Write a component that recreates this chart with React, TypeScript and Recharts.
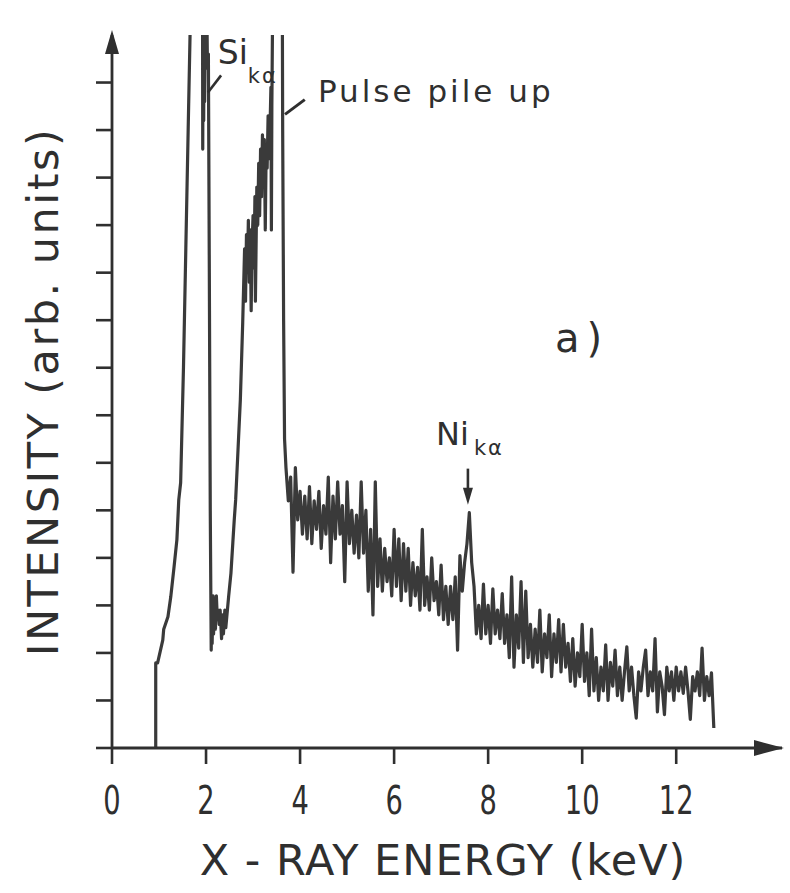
import React from 'react';
import { LineChart, Line, XAxis, YAxis, ReferenceDot, ReferenceLine, Label } from 'recharts';

// rising edge, Si K-alpha and pulse pile-up region (keV / arb. units)
const riseEnergy = [
  0.93, 0.93, 0.97, 1.08, 1.1, 1.19, 1.25, 1.32, 1.38, 1.42, 1.46, 1.52, 1.57, 1.62, 1.66, 1.69,
  1.92, 1.93, 1.94, 1.95, 1.96, 1.97, 1.99, 2.0, 2.02, 2.03, 2.05, 2.07, 2.09, 2.11,
  2.12, 2.13, 2.15, 2.16, 2.18, 2.2, 2.22, 2.24, 2.26, 2.28, 2.3, 2.33, 2.35, 2.37, 2.4,
  2.42, 2.48, 2.53, 2.57, 2.6, 2.63, 2.68, 2.73, 2.78, 2.82, 2.84, 2.86, 2.88, 2.9, 2.92,
  2.94, 2.96, 2.98, 3.0, 3.02, 3.04, 3.05, 3.08, 3.1, 3.12, 3.14, 3.16, 3.18, 3.2, 3.22,
  3.24, 3.26, 3.28, 3.3, 3.32, 3.34, 3.36, 3.38, 3.39, 3.4, 3.42, 3.44, 3.61, 3.63, 3.65, 3.67,
];
const riseIntensity = [
  0, 1.79, 1.79, 2.27, 2.5, 2.76, 3.18, 3.81, 4.38, 5.22, 5.58, 8.0, 10.5, 13.0, 15.0, 20,
  20, 12.6, 16, 13.2, 15.5, 13.6, 16, 14.4, 15.3, 14.3, 14.6, 10.0, 5.0, 2.06,
  3.0, 2.2, 3.2, 2.4, 3.1, 2.5, 3.2, 2.7, 2.9, 2.6, 2.9, 2.3, 2.8, 2.4, 2.9,
  2.53, 3.18, 3.68, 4.32, 4.8, 5.22, 6.27, 7.33, 8.95, 10.5, 9.4, 10.8, 10.0, 11.1, 9.8,
  10.9, 9.2, 10.6, 11.2, 10.1, 11.6, 9.4, 11.8, 11.0, 12.3, 11.2, 12.6, 11.6, 12.9, 11.9,
  12.8, 10.9, 12.7, 12.2, 13.3, 12.4, 13.0, 13.9, 10.9, 13.5, 16, 20, 20, 13, 9, 6.5,
];

// noisy background, one value per 0.05 keV channel from 3.70 keV
const tailStart = 3.7;
const channelWidth = 0.05;
const tailIntensity = [
  5.9, 5.2, 5.7, 3.7, 5.9, 4.8, 5.4, 4.5, 5.3, 4.4, 5.5, 4.3, 5.2, 4.6, 5.4, 4.2, 5.1, 4.5, 5.7, 3.9,
  5.3, 4.4, 5.6, 4.5, 5.1, 3.5, 5.6, 4.3, 5.0, 4.1, 4.9, 4.0, 5.6, 4.1, 5.0, 3.3, 4.6, 2.8, 5.6, 3.4,
  4.4, 3.3, 4.2, 3.5, 4.0, 3.2, 4.6, 3.4, 4.4, 3.1, 4.3, 3.3, 4.2, 3.0, 3.9, 3.2, 3.8, 2.9, 4.6, 3.0,
  3.6, 2.9, 4.0, 3.1, 3.5, 2.8, 3.85, 2.7, 3.4, 2.6, 3.4, 2.7, 3.6, 2.06, 4.05, 3.3, 3.9, 4.3, 4.95, 3.9,
  3.4, 2.4, 3.0, 2.3, 3.45, 2.4, 3.0, 2.2, 3.35, 2.4, 2.9, 2.3, 3.25, 2.2, 2.8, 1.9, 3.6, 1.7, 2.8, 2.1,
  3.5, 1.8, 3.3, 1.9, 2.6, 1.7, 2.5, 1.8, 2.9, 1.6, 2.4, 1.9, 2.8, 1.5, 2.4, 1.8, 2.7, 1.6, 2.6, 1.7,
  2.2, 1.4, 2.3, 1.3, 2.0, 1.5, 2.6, 1.4, 2.0, 1.1, 2.5, 1.2, 1.9, 1.0, 1.7, 1.2, 2.17, 1.0, 1.8, 1.3,
  2.06, 1.1, 1.7, 1.0, 1.6, 2.13, 1.2, 1.7, 1.1, 0.63, 1.6, 1.2, 1.7, 2.06, 1.1, 1.6, 1.2, 2.3, 0.76, 1.6,
  1.3, 0.7, 1.7, 1.2, 1.6, 1.0, 1.7, 1.2, 1.6, 1.15, 1.7, 1.2, 0.6, 1.5, 1.2, 1.6, 1.1, 2.1, 1.0, 1.5,
  1.1, 1.58, 0.42,
];

const xTicks = [0, 2, 4, 6, 8, 10, 12];
const yTicks = [0, 1, 2, 3, 4, 5, 6, 7, 8, 9, 10, 11, 12, 13, 14];

const spectrum = [
  ...riseEnergy.map((e, i) => ({ e, v: riseIntensity[i] })),
  ...tailIntensity.map((v, i) => ({ e: +(tailStart + i * channelWidth).toFixed(2), v })),
];

const INK = '#2f2f2f';
const FONT = '"DejaVu Sans", sans-serif';

const XTick = (p: any) => (
  <g transform={`translate(${p.x},${p.y + 48})`}>
    <text transform="scale(0.7,1)" textAnchor="middle" fontSize={39} fill={INK} fontFamily={FONT}>
      {p.payload.value}
    </text>
  </g>
);

const NoTick = () => <g />;

const XTitle = (p: any) => {
  const vb = p.viewBox;
  return (
    <text x={vb.x + vb.width / 2 - 4} y={vb.y + 127} textAnchor="middle" fontSize={43}
      fill={INK} fontFamily={FONT} letterSpacing={1}>
      X - RAY ENERGY (keV)
    </text>
  );
};

const YTitle = (p: any) => {
  const vb = p.viewBox;
  const cx = vb.x + 58;
  const cy = vb.y + vb.height / 2;
  return (
    <text x={cx} y={cy} transform={`rotate(-90, ${cx}, ${cy})`} textAnchor="middle" fontSize={43}
      fill={INK} fontFamily={FONT} letterSpacing={2.5}>
      INTENSITY (arb. units)
    </text>
  );
};

export default function App() {
  return (
    <div style={{ position: 'absolute', left: 0, top: 0, width: 790, height: 893, background: '#fff' }}>
      <LineChart width={790} height={893} data={spectrum} margin={{ top: 35, right: 8, bottom: 105, left: 0 }}>
        <XAxis dataKey="e" type="number" domain={[0, 14.25]} ticks={xTicks} interval={0} height={40}
          tickSize={16} tick={<XTick />} allowDataOverflow
          axisLine={{ stroke: INK, strokeWidth: 2.8 }} tickLine={{ stroke: INK, strokeWidth: 2.6 }}>
          <Label content={XTitle} />
        </XAxis>
        <YAxis type="number" domain={[0, 15]} ticks={yTicks} interval={0} width={112}
          tickSize={16} tick={NoTick} allowDataOverflow
          axisLine={{ stroke: INK, strokeWidth: 2.8 }} tickLine={{ stroke: INK, strokeWidth: 2.6 }}>
          <Label content={YTitle} />
        </YAxis>

        <Line data={spectrum} dataKey="v" type="linear" dot={false} activeDot={false}
          stroke="#3a3a3a" strokeWidth={3.2} strokeLinejoin="round" isAnimationActive={false} />

        {/* axis arrowheads */}
        <ReferenceDot x={0} y={15} r={0} ifOverflow="visible"
          shape={(p: any) => (
            <polygon points={`${p.cx},${p.cy - 5} ${p.cx - 7},${p.cy + 19} ${p.cx + 7},${p.cy + 19}`} fill={INK} />
          )} />
        <ReferenceDot x={14.25} y={0} r={0} ifOverflow="visible"
          shape={(p: any) => (
            <polygon points={`${p.cx + 2},${p.cy} ${p.cx - 28},${p.cy - 8} ${p.cx - 28},${p.cy + 8}`} fill={INK} />
          )} />

        {/* Si K-alpha */}
        <ReferenceLine segment={[{ x: 2.04, y: 13.79 }, { x: 2.32, y: 14.15 }]} stroke={INK} strokeWidth={2.6} ifOverflow="visible" />
        <ReferenceDot x={2.25} y={14.38} r={0} ifOverflow="visible"
          shape={(p: any) => (
            <g fill={INK} fontFamily={FONT}>
              <text x={p.cx} y={p.cy} fontSize={33}>Si</text>
              <text x={p.cx + 30} y={p.cy + 19} fontSize={21} letterSpacing={2}>kα</text>
            </g>
          )} />

        {/* pulse pile up */}
        <ReferenceLine segment={[{ x: 3.68, y: 13.33 }, { x: 4.1, y: 13.64 }]} stroke={INK} strokeWidth={3} ifOverflow="visible" />
        <ReferenceDot x={4.38} y={13.58} r={0} ifOverflow="visible"
          shape={(p: any) => (
            <text x={p.cx} y={p.cy} fontSize={31} fill={INK} fontFamily={FONT} letterSpacing={3}>Pulse pile up</text>
          )} />

        {/* panel label */}
        <ReferenceDot x={9.42} y={8.34} r={0} ifOverflow="visible"
          shape={(p: any) => (
            <text x={p.cx} y={p.cy} fontSize={40} fill={INK} fontFamily={FONT} letterSpacing={7}>a)</text>
          )} />

        {/* Ni K-alpha */}
        <ReferenceDot x={6.89} y={6.38} r={0} ifOverflow="visible"
          shape={(p: any) => (
            <g fill={INK} fontFamily={FONT}>
              <text x={p.cx} y={p.cy} fontSize={32}>Ni</text>
              <text x={p.cx + 38} y={p.cy + 10} fontSize={21} letterSpacing={2}>kα</text>
            </g>
          )} />
        <ReferenceDot x={7.57} y={5.12} r={0} ifOverflow="visible"
          shape={(p: any) => (
            <g>
              <line x1={p.cx} y1={p.cy - 36} x2={p.cx} y2={p.cy - 14} stroke={INK} strokeWidth={2.6} />
              <polygon points={`${p.cx - 5},${p.cy - 17} ${p.cx + 5},${p.cy - 17} ${p.cx},${p.cy}`} fill={INK} />
            </g>
          )} />
      </LineChart>
    </div>
  );
}
